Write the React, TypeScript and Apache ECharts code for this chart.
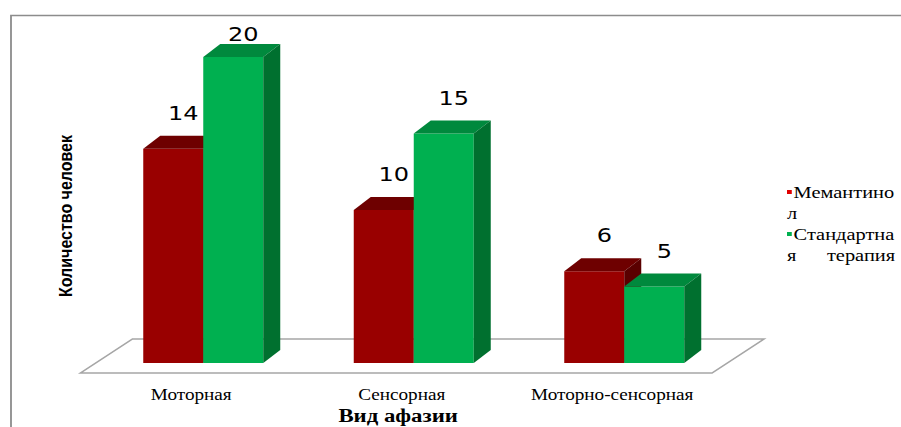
import { useEffect, useRef } from 'react';
import * as echarts from 'echarts';

// Aphasia type vs. number of patients in each treatment group
const categories = ['Моторная', 'Сенсорная', 'Моторно-сенсорная'];
const memantine = [14, 10, 6];
const standard = [20, 15, 5];
const seriesNames = ['Мемантинол', 'Стандартная терапия'];
const yMin = 0;
const yMax = 20;

// The drawing is rendered narrower and stretched horizontally with CSS.
const SX = 1.2;
const CHART_W = Math.round(901 / SX);
const CHART_H = 427;

// 3D box depth for bars and for the floor plane
const DEPTH_X = 17 / SX;
const DEPTH_Y = -13;
const FLOOR_SHIFT_X = -17.5 / SX;
const FLOOR_SHIFT_Y = 10;
const FLOOR_DEPTH_X = 52 / SX;
const FLOOR_DEPTH_Y = -34;
const BAR_W = 60 / SX;
const LABEL_DX = 10 / SX;
const LABEL_DY = -36;
const LABEL_MIN_Y = 34;

const palettes = [
  { front: '#990000', top: '#6e0000', side: '#5a0000', marker: '#e00000' },
  { front: '#00b050', top: '#00893d', side: '#00702f', marker: '#00b050' },
];

const legendText: Record<string, string> = {
  'Мемантинол': '{r| }{s| }Мемантино\nл',
  'Стандартная терапия': '{g| }{s| }Стандартна\nя      терапия',
};

function makeBarRenderer(side: number, pal: typeof palettes[number]) {
  return (params: any, api: any) => {
    const cat = api.value(0);
    const val = api.value(1);
    const top = api.coord([cat, val]);
    const base = api.coord([cat, 0]);
    const x0 = side < 0 ? top[0] - BAR_W : top[0];
    const x1 = x0 + BAR_W;
    const yT = top[1];
    const yB = base[1];
    return {
      type: 'group',
      children: [
        { type: 'rect', shape: { x: x0, y: yT, width: BAR_W, height: yB - yT }, style: { fill: pal.front } },
        {
          type: 'polygon',
          shape: { points: [[x0, yT], [x1, yT], [x1 + DEPTH_X, yT + DEPTH_Y], [x0 + DEPTH_X, yT + DEPTH_Y]] },
          style: { fill: pal.top },
        },
        {
          type: 'polygon',
          shape: { points: [[x1, yT], [x1, yB], [x1 + DEPTH_X, yB + DEPTH_Y], [x1 + DEPTH_X, yT + DEPTH_Y]] },
          style: { fill: pal.side },
        },
        {
          type: 'text',
          x: (x0 + x1) / 2 + LABEL_DX,
          y: Math.max(yT + LABEL_DY, LABEL_MIN_Y),
          style: {
            text: String(val),
            align: 'center',
            verticalAlign: 'middle',
            fontFamily: 'DejaVu Sans',
            fontSize: 20,
            fill: '#000',
          },
        },
      ],
    };
  };
}

function renderFloor(params: any) {
  const cs = params.coordSys;
  const fy = cs.y + cs.height + FLOOR_SHIFT_Y;
  const fx0 = cs.x + FLOOR_SHIFT_X;
  const fx1 = cs.x + cs.width + FLOOR_SHIFT_X;
  return {
    type: 'polygon',
    shape: {
      points: [
        [fx0, fy],
        [fx1, fy],
        [fx1 + FLOOR_DEPTH_X, fy + FLOOR_DEPTH_Y],
        [fx0 + FLOOR_DEPTH_X, fy + FLOOR_DEPTH_Y],
      ],
    },
    style: { fill: '#ffffff', stroke: '#a6a6a6', lineWidth: 1.5 },
  };
}

export default function App() {
  const ref = useRef<HTMLDivElement>(null);

  useEffect(() => {
    if (!ref.current) return;
    const chart = echarts.init(ref.current, null, { renderer: 'svg' });
    const groups = [memantine, standard];
    chart.setOption({
      animation: false,
      backgroundColor: '#ffffff',
      grid: {
        left: 98 / SX,
        top: 57,
        width: 631.5 / SX,
        height: 306,
        containLabel: false,
        outerBoundsMode: 'none',
      },
      xAxis: {
        type: 'category',
        data: categories,
        axisLine: { show: false },
        axisTick: { show: false },
        splitLine: { show: false },
        axisLabel: {
          interval: 0,
          hideOverlap: false,
          margin: 24,
          fontFamily: 'Liberation Serif',
          fontSize: 16,
          color: '#000',
          padding: [0, 20, 0, 0],
        },
        name: 'Вид афазии',
        nameLocation: 'middle',
        nameGap: 43,
        nameMoveOverlap: false,
        nameTextStyle: {
          fontFamily: 'Liberation Serif',
          fontWeight: 'bold',
          fontSize: 19,
          color: '#000',
          padding: [0, 26, 0, 0],
        },
      },
      yAxis: {
        type: 'value',
        min: yMin,
        max: yMax,
        axisLine: { show: false },
        axisTick: { show: false },
        axisLabel: { show: false },
        splitLine: { show: false },
        name: 'Количество человек',
        nameLocation: 'middle',
        nameRotate: 90,
        nameGap: 19,
        nameMoveOverlap: false,
        nameTextStyle: {
          fontFamily: 'Liberation Sans',
          fontWeight: 'bold',
          fontSize: 16,
          color: '#000',
          padding: [0, 12, 0, 0],
        },
      },
      legend: {
        data: seriesNames,
        orient: 'vertical',
        left: 775 / SX,
        top: 176.5,
        icon: 'none',
        itemWidth: 0,
        itemHeight: 14,
        itemGap: 0,
        selectedMode: false,
        formatter: (name: string) => legendText[name] ?? name,
        textStyle: {
          fontFamily: 'Liberation Serif',
          fontSize: 17,
          lineHeight: 21,
          color: '#000',
          rich: {
            r: { width: 4, height: 4, backgroundColor: palettes[0].marker },
            g: { width: 4, height: 4, backgroundColor: palettes[1].marker },
            s: { width: 1.5 },
          },
        },
      },
      graphic: [
        {
          type: 'rect',
          left: 8 / SX,
          top: 13,
          shape: { width: 1000, height: 500 },
          style: { fill: 'none', stroke: '#8c8c8c', lineWidth: 1.5 },
          z: -1,
          silent: true,
        },
      ],
      series: [
        {
          type: 'custom',
          name: 'floor',
          data: [[0, 0]],
          renderItem: renderFloor,
          silent: true,
          z: 1,
        },
        ...groups.map((vals, gi) => ({
          type: 'custom',
          name: seriesNames[gi],
          data: vals.map((v, i) => [i, v]),
          renderItem: makeBarRenderer(gi === 0 ? -1 : 1, palettes[gi]),
          itemStyle: { color: palettes[gi].front },
          z: 2,
        })),
      ],
    });
    return () => chart.dispose();
  }, []);

  return (
    <div
      ref={ref}
      style={{
        position: 'absolute',
        left: 0,
        top: 0,
        width: CHART_W,
        height: CHART_H,
        transform: `scaleX(${SX})`,
        transformOrigin: '0 0',
      }}
    />
  );
}
